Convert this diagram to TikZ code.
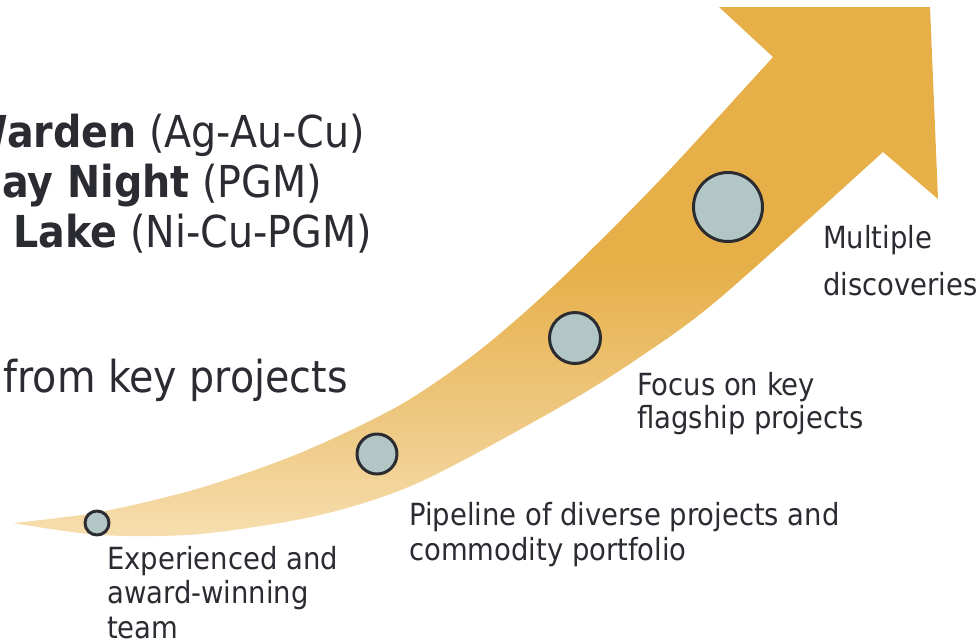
\documentclass[tikz,border=0pt]{standalone}
\usepackage{fontspec}
\setmainfont{DejaVuSansCondensed.ttf}[BoldFont=DejaVuSansCondensed-Bold.ttf]
\definecolor{gold}{HTML}{E6AF47}
\definecolor{sand}{HTML}{EFCA86}
\definecolor{pale}{HTML}{F6DEAE}
\definecolor{stone}{HTML}{B3C6C6}
\definecolor{ink}{HTML}{2A2C32}
\pgfdeclareverticalshading{risefill}{100bp}{color(0bp)=(pale); color(25bp)=(pale);
  color(35bp)=(sand); color(51bp)=(gold); color(100bp)=(gold)}
\begin{document}
\begin{tikzpicture}
	[x=1pt, y=-1pt, line join=round, line cap=round,
	milestone/.style={circle, draw=ink, fill=stone, line width=3pt, inner sep=0pt},
	steptext/.style={anchor=base west, align=left, inner sep=0pt, text=ink,
		font=\fontsize{30.5}{34.5}\selectfont},
	headtext/.style={anchor=base east, inner sep=0pt, text=ink,
		font=\fontsize{44}{50}\selectfont}]
	\useasboundingbox (0,0) rectangle (977,641);
	\clip (0,0) rectangle (977,641);
	\shade[shading=risefill] (13,523) %
	-- plot[smooth] coordinates {(13,523) (100,512) (200,488) (300,453) (400,405) (480,350) (560,280) (660,180) (773,57)}
	-- (719,7) -- (930,7) -- (938,199) -- (883,152) %
	-- plot[smooth] coordinates {(883,152) (720,298) (640,357) (560,407) (420,482) (320,515) (200,534) (100,535) (13,523)}
	-- cycle;
	\node[milestone, minimum size=24pt] (m1) at (97,523) {};
	\node[milestone, minimum size=40pt] (m2) at (377,454) {};
	\node[milestone, minimum size=51pt] (m3) at (575,338) {};
	\node[milestone, minimum size=69pt] (m4) at (728,207) {};
	% base anchor sits on the last line
	\node[steptext] (t1) at (107,638) {Experienced and\\award-winning\\team};
	\node[steptext] (t2) at (409,560) {Pipeline of diverse projects and\\commodity portfolio};
	\node[steptext, font=\fontsize{30.5}{33}\selectfont] (t3) at (637,428) {Focus on key\\flagship projects};
	\node[steptext, font=\fontsize{30.5}{47}\selectfont] (t4) at (823,295) {Multiple\\discoveries};
	\node[headtext] (h1) at (365,147) {\textbf{Warden} (Ag-Au-Cu)};
	\node[headtext] (h2) at (322,197) {\textbf{day Night} (PGM)};
	\node[headtext] (h3) at (372,247) {\textbf{e Lake} (Ni-Cu-PGM)};
	\node[headtext] (h4) at (348,392) {w from key projects};
\end{tikzpicture}
\end{document}
